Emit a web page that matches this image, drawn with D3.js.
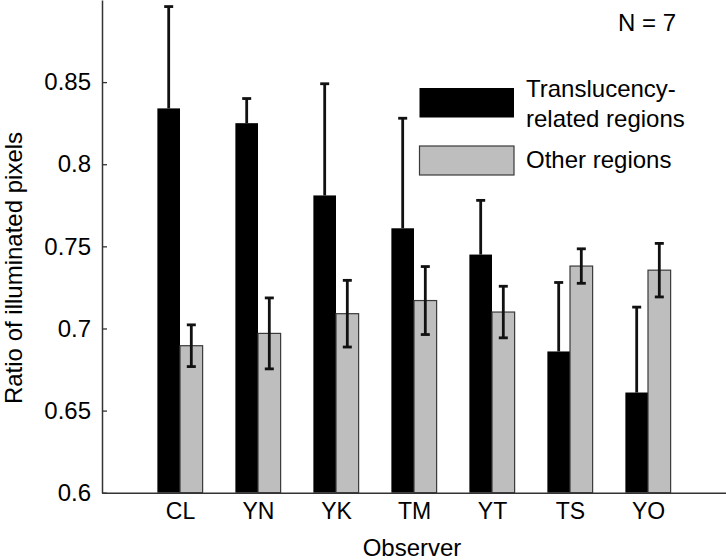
<!DOCTYPE html>
<html>
<head>
<meta charset="utf-8">
<script src="https://cdn.jsdelivr.net/npm/d3@7"></script>
<style>
  html, body { margin: 0; padding: 0; background: #fff; }
  svg { display: block; font-family: "Liberation Sans", Arial, Helvetica, sans-serif; }
</style>
</head>
<body>
<svg id="chart" width="726" height="560"></svg>
<script>
// ---- data ----
const observers = ["CL", "YN", "YK", "TM", "YT", "TS", "YO"];
const translucencyMean = [0.834, 0.825, 0.781, 0.761, 0.745, 0.686, 0.661];
const translucencyErr  = [0.062, 0.015, 0.068, 0.067, 0.033, 0.042, 0.052];
const otherMean = [0.6895, 0.697, 0.709, 0.717, 0.710, 0.738, 0.7355];
const otherErr  = [0.0127, 0.0216, 0.0203, 0.0207, 0.0157, 0.0105, 0.0163];
const yTickValues = [0.6, 0.65, 0.7, 0.75, 0.8, 0.85];
const yTickLabels = ["0.6", "0.65", "0.7", "0.75", "0.8", "0.85"];
const seriesNames = ["Translucency-|related regions", "Other regions"];
const nLabel = "N = 7";

// ---- layout ----
const mLeft = 102, mRight = 726, mTop = 0, mBottom = 492.7;
const svg = d3.select("#chart");

const x = d3.scalePoint().domain(observers).range([mLeft, mRight]).padding(1);
const y = d3.scaleLinear().domain([0.6, 0.9]).range([mBottom, mTop]);
const barW = x.step() * 0.29;

const black = "#000000", gray = "#bebebe", grayStroke = "#3a3a3a";

// bars
const g = svg.append("g");
observers.forEach((o, i) => {
  const cx = x(o);
  g.append("rect")
    .attr("x", cx - barW).attr("y", y(translucencyMean[i]))
    .attr("width", barW).attr("height", y(0.6) - y(translucencyMean[i]))
    .attr("fill", black);
  g.append("rect")
    .attr("x", cx).attr("y", y(otherMean[i]))
    .attr("width", barW).attr("height", y(0.6) - y(otherMean[i]))
    .attr("fill", gray).attr("stroke", grayStroke).attr("stroke-width", 1.2);
});

// error bars
const capW = 9, ew = 2.8, ec = "#111";
function errBar(cx, y1, y2, capTop, capBottom) {
  g.append("line").attr("x1", cx).attr("x2", cx).attr("y1", y1).attr("y2", y2)
    .attr("stroke", ec).attr("stroke-width", ew);
  if (capTop) g.append("line").attr("x1", cx - capW / 2).attr("x2", cx + capW / 2)
    .attr("y1", y1).attr("y2", y1).attr("stroke", ec).attr("stroke-width", ew);
  if (capBottom) g.append("line").attr("x1", cx - capW / 2).attr("x2", cx + capW / 2)
    .attr("y1", y2).attr("y2", y2).attr("stroke", ec).attr("stroke-width", ew);
}
observers.forEach((o, i) => {
  const cb = x(o) - barW / 2;
  errBar(cb, y(translucencyMean[i] + translucencyErr[i]), y(translucencyMean[i]), true, false);
  const cg = x(o) + barW / 2;
  errBar(cg, y(otherMean[i] + otherErr[i]), y(otherMean[i] - otherErr[i]), true, true);
});

// y axis
const yAxis = d3.axisLeft(y).tickValues(yTickValues)
  .tickFormat((d, i) => yTickLabels[i]).tickSizeInner(-5).tickSizeOuter(0).tickPadding(11);
const ya = svg.append("g").attr("transform", `translate(${mLeft},0)`).call(yAxis);
ya.select(".domain").attr("stroke", "#333").attr("stroke-width", 1.5);
ya.selectAll(".tick line").attr("stroke", "#333").attr("stroke-width", 1.3);
ya.selectAll(".tick text").attr("font-size", 24).attr("fill", "#000")
  .attr("font-family", "Liberation Sans, Arial, sans-serif");

// x axis
const xAxis = d3.axisBottom(x).tickSize(0).tickPadding(10).tickSizeOuter(0);
const xa = svg.append("g").attr("transform", `translate(0,${mBottom})`).call(xAxis);
xa.select(".domain").attr("stroke", "#333").attr("stroke-width", 1.5);
xa.selectAll(".tick text").attr("font-size", 23).attr("fill", "#000")
  .attr("font-family", "Liberation Sans, Arial, sans-serif");

// axis titles
svg.append("text").attr("x", (mLeft + mRight) / 2 - 2).attr("y", 556)
  .attr("text-anchor", "middle").attr("font-size", 24).text("Observer");
svg.append("text").attr("transform", "translate(22,268) rotate(-90)")
  .attr("text-anchor", "middle").attr("font-size", 24).text("Ratio of illuminated pixels");

// N label
svg.append("text").attr("x", 618).attr("y", 31).attr("font-size", 24).text(nLabel);

// legend
svg.append("rect").attr("x", 419.5).attr("y", 88).attr("width", 94.5).attr("height", 29.5)
  .attr("fill", black);
svg.append("rect").attr("x", 419.5).attr("y", 146).attr("width", 94.5).attr("height", 29)
  .attr("fill", gray).attr("stroke", grayStroke).attr("stroke-width", 1.2);
const l1 = seriesNames[0].split("|");
svg.append("text").attr("x", 526).attr("y", 97).attr("font-size", 24).text(l1[0]);
svg.append("text").attr("x", 526).attr("y", 126.5).attr("font-size", 24).text(l1[1]);
svg.append("text").attr("x", 526).attr("y", 168).attr("font-size", 24).text(seriesNames[1]);
</script>
</body>
</html>
